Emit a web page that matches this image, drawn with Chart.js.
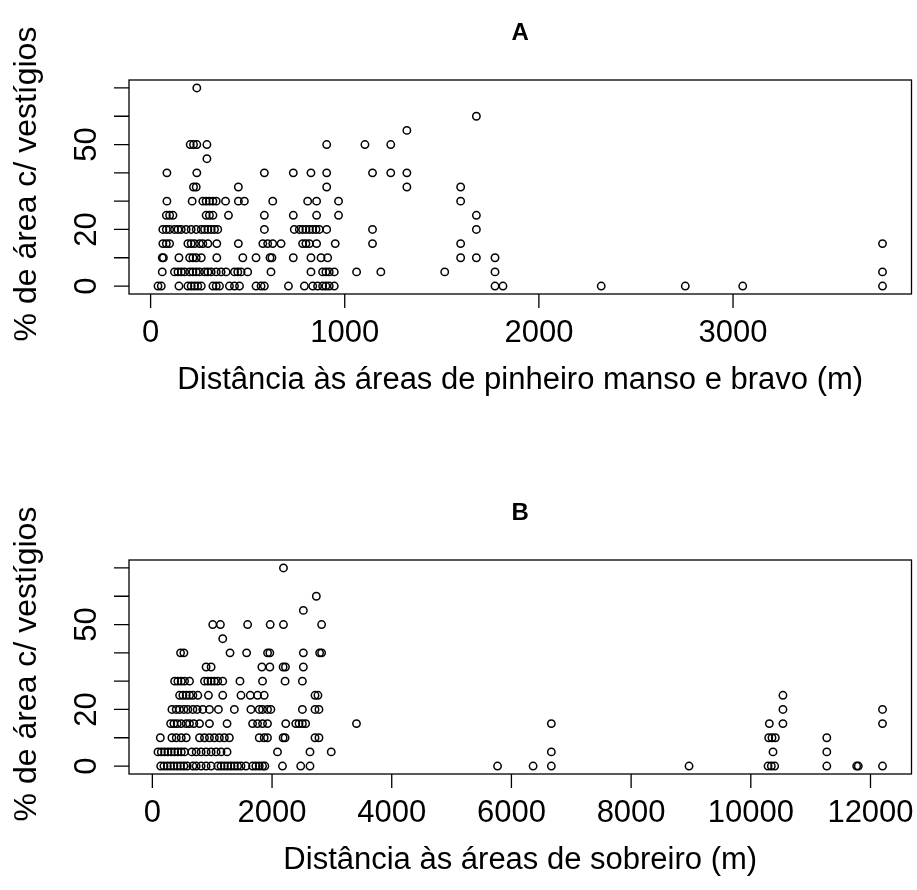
<!DOCTYPE html>
<html>
<head>
<meta charset="utf-8">
<script src="https://cdn.jsdelivr.net/npm/chart.js@4.4.1/dist/chart.umd.min.js"></script>
<style>
    html, body { margin: 0; padding: 0; background: #ffffff; }
    #wrap { position: relative; width: 917px; height: 890px; }
    canvas { position: absolute; left: 0; }
    #chartA { top: 0; }
    #chartB { top: 480px; }
</style>
</head>
<body>
<div id="wrap">
    <canvas id="chartA" width="917" height="410"></canvas>
    <canvas id="chartB" width="917" height="410"></canvas>
</div>
<script>
/* ------------------------------------------------------------
   DATA
   each inner list = distances (m) of the sites at one % level
------------------------------------------------------------ */
const pctLevels = [0, 5, 10, 15, 20, 25, 30, 35, 40, 45, 50, 55, 60, 65, 70];

const distPinheiro = [
    [38, 55, 146, 192, 209, 226, 243, 261, 321, 338, 355, 406, 432, 458, 543, 569, 586, 710, 792, 835, 860, 886, 903, 920, 946, 1774, 1815, 2321, 2754, 3050, 3770],
    [60, 123, 141, 158, 175, 201, 218, 235, 252, 278, 295, 312, 338, 363, 389, 432, 449, 466, 500, 620, 826, 886, 903, 920, 946, 1061, 1186, 1515, 1774, 3770],
    [60, 66, 146, 201, 218, 235, 261, 341, 475, 543, 615, 625, 735, 826, 878, 912, 1597, 1678, 1774],
    [63, 81, 98, 192, 209, 226, 252, 269, 295, 341, 452, 578, 603, 629, 672, 783, 800, 818, 855, 951, 1143, 1597, 3770],
    [63, 81, 98, 123, 141, 158, 183, 209, 235, 261, 278, 295, 312, 329, 346, 586, 740, 766, 783, 800, 818, 835, 852, 869, 907, 1143, 1678],
    [81, 98, 115, 286, 303, 321, 401, 586, 735, 855, 968, 1678],
    [84, 214, 269, 286, 303, 321, 338, 386, 452, 483, 629, 809, 855, 968, 1597],
    [221, 235, 452, 907, 1320, 1597],
    [84, 238, 586, 735, 826, 907, 1143, 1237, 1320],
    [290],
    [204, 221, 238, 290, 907, 1104, 1237],
    [1320],
    [1678],
    [],
    [238]
];

const distSobreiro = [
    [139, 194, 250, 305, 360, 416, 471, 527, 582, 677, 732, 815, 898, 982, 1093, 1148, 1203, 1259, 1314, 1370, 1425, 1481, 1564, 1675, 1730, 1786, 1841, 1880, 2174, 2479, 2634, 5768, 6362, 6667, 8968, 10288, 10343, 10399, 11270, 11769, 11796, 12201],
    [94, 150, 205, 261, 316, 372, 427, 483, 538, 660, 732, 815, 898, 982, 1065, 1148, 1248, 2091, 2634, 2989, 6667, 10371, 11270],
    [133, 327, 399, 483, 566, 788, 871, 954, 1037, 1120, 1203, 1287, 1786, 1869, 1924, 2185, 2218, 2718, 2784, 10299, 10354, 10410, 11270],
    [305, 360, 416, 483, 566, 621, 693, 788, 954, 1248, 1675, 1758, 1841, 1924, 2229, 2396, 2451, 2507, 2562, 3411, 6667, 10310, 10537, 12201],
    [327, 399, 455, 527, 593, 677, 749, 843, 954, 1104, 1370, 1647, 1786, 1841, 1924, 1980, 2507, 2718, 2784, 10537, 12201],
    [455, 510, 566, 621, 677, 760, 937, 1176, 1481, 1636, 1758, 1869, 2718, 2767, 10537],
    [372, 427, 483, 538, 621, 871, 926, 982, 1037, 1093, 1176, 1464, 1841, 2218, 2507],
    [898, 982, 1830, 1963, 2185, 2224, 2523],
    [471, 527, 1298, 1575, 1925, 1963, 2523, 2795, 2828],
    [1176],
    [1009, 1137, 1592, 1969, 2191, 2828],
    [2523],
    [2740],
    [],
    [2191]
];

const xTicksA = [0, 1000, 2000, 3000];
const xTicksB = [0, 2000, 4000, 6000, 8000, 10000, 12000];
const yTicks = [0, 10, 20, 30, 40, 50, 60, 70];
const yTickLabels = [0, 20, 50];

const FONT = '"Liberation Sans", Arial, sans-serif';

/* ------------------------------------------------------------
   HELPERS
------------------------------------------------------------ */
function toPoints(rows) {
    const pts = [];
    rows.forEach((row, i) => row.forEach(d => pts.push({ x: d, y: pctLevels[i] })));
    return pts;
}

// R style range: data range stretched by 4% each side
function rRange(values) {
    const lo = Math.min(...values), hi = Math.max(...values);
    const pad = (hi - lo) * 0.04;
    return { min: lo - pad, max: hi + pad };
}

/* ------------------------------------------------------------
   R-LIKE AXES / BOX / TITLES
------------------------------------------------------------ */
const rAxes = {
    id: "rAxes",
    afterDraw(chart, args, opts) {
        const { ctx, chartArea: a, scales: { x, y } } = chart;
        ctx.save();
        ctx.strokeStyle = "#000";
        ctx.fillStyle = "#000";
        ctx.lineWidth = 1.3;

        ctx.strokeRect(a.left, a.top, a.right - a.left, a.bottom - a.top);

        // x axis ticks + labels
        ctx.font = `31px ${FONT}`;
        ctx.textAlign = "center";
        ctx.textBaseline = "alphabetic";
        ctx.beginPath();
        opts.xTicks.forEach(t => {
            const px = x.getPixelForValue(t);
            ctx.moveTo(px, a.bottom);
            ctx.lineTo(px, a.bottom + 14);
        });
        ctx.stroke();
        opts.xTicks.forEach(t => ctx.fillText(String(t), x.getPixelForValue(t), a.bottom + 48));

        // y axis ticks + rotated labels
        ctx.beginPath();
        yTicks.forEach(t => {
            const py = y.getPixelForValue(t);
            ctx.moveTo(a.left, py);
            ctx.lineTo(a.left - 15, py);
        });
        ctx.stroke();
        yTickLabels.forEach(t => {
            ctx.save();
            ctx.translate(96, y.getPixelForValue(t));
            ctx.rotate(-Math.PI / 2);
            ctx.fillText(String(t), 0, 0);
            ctx.restore();
        });

        // axis titles
        const cx = (a.left + a.right) / 2;
        ctx.fillText(opts.xlab, cx, a.bottom + 95);
        ctx.save();
        ctx.translate(36, (a.top + a.bottom) / 2 - 3);
        ctx.rotate(-Math.PI / 2);
        ctx.font = `32px ${FONT}`;
        ctx.fillText("% de área c/ vestígios", 0, 0);
        ctx.restore();

        // main title
        ctx.font = `bold 24px ${FONT}`;
        ctx.fillText(opts.title, cx, 40);
        ctx.restore();
    }
};

/* ------------------------------------------------------------
   PANEL BUILDER
------------------------------------------------------------ */
function drawPanel(canvasId, rows, xTicks, title, xlab) {
    const xr = rRange(rows.flat());
    const yr = rRange(pctLevels.filter((p, i) => rows[i].length));

    new Chart(document.getElementById(canvasId), {
        type: "scatter",
        data: {
            datasets: [{
                data: toPoints(rows),
                pointStyle: "circle",
                pointRadius: 3.7,
                pointBorderWidth: 1.5,
                borderColor: "#000",
                backgroundColor: "rgba(0,0,0,0)",
                clip: false
            }]
        },
        options: {
            responsive: false,
            animation: false,
            layout: { padding: { left: 129, right: 4, top: 80, bottom: 116 } },
            scales: {
                x: { type: "linear", min: xr.min, max: xr.max, display: false },
                y: { type: "linear", min: yr.min, max: yr.max, display: false }
            },
            plugins: {
                legend: { display: false },
                tooltip: { enabled: false },
                rAxes: { xTicks, title, xlab }
            }
        },
        plugins: [rAxes]
    });
}

drawPanel("chartA", distPinheiro, xTicksA, "A", "Distância às áreas de pinheiro manso e bravo (m)");
drawPanel("chartB", distSobreiro, xTicksB, "B", "Distância às áreas de sobreiro (m)");
</script>
</body>
</html>
